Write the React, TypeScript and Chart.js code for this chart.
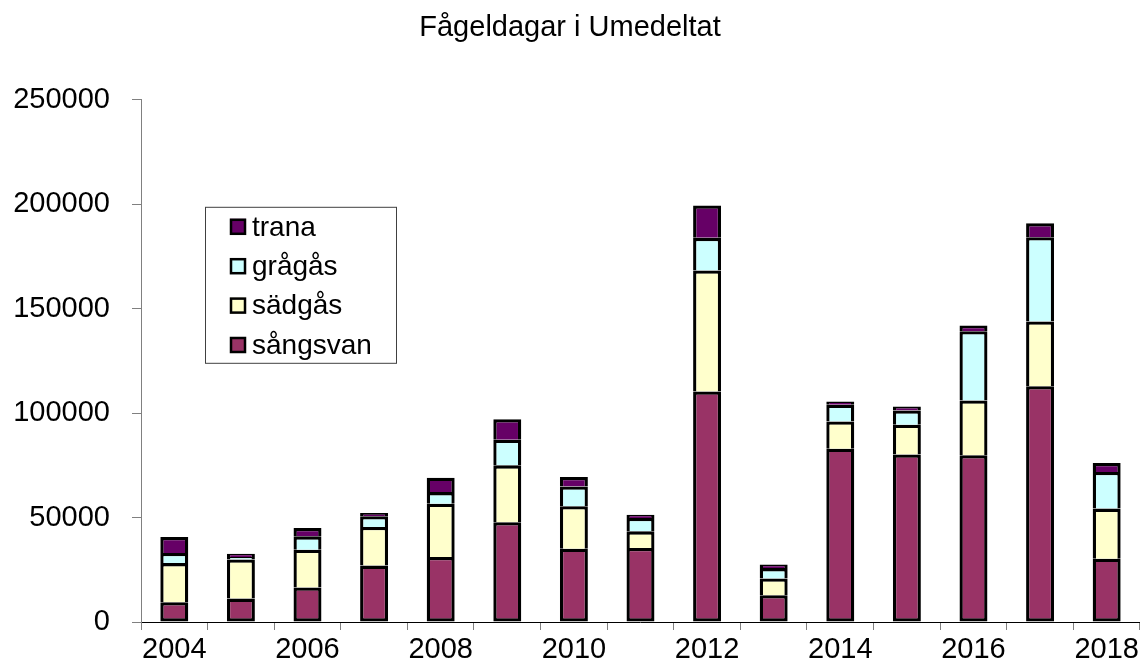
import React, { useEffect, useRef } from "react";
import { Chart, registerables } from "chart.js";

Chart.register(...registerables);

const years = ["2004", "2005", "2006", "2007", "2008", "2009", "2010", "2011", "2012", "2013", "2014", "2015", "2016", "2017", "2018"];
const sangsvan = [9500, 11200, 16500, 27000, 31100, 47800, 35100, 35400, 110400, 12800, 83000, 80200, 79800, 112900, 30300];
const sadgas = [18700, 18700, 18100, 18500, 25500, 27200, 20300, 8000, 57900, 8000, 13000, 14200, 26300, 31000, 24000];
const gragas = [4800, 1200, 6400, 5100, 5600, 12300, 9500, 6400, 15600, 5000, 8000, 6900, 33100, 40300, 17500];
const trana = [7700, 1600, 4000, 1600, 6900, 9800, 4500, 1600, 15500, 1700, 1600, 1900, 2800, 6700, 4300];
const seriesNames = ["sångsvan", "sädgås", "grågås", "trana"];
const seriesColors = ["#993366", "#FFFFCC", "#CCFFFF", "#660066"];
const titleText = "Fågeldagar i Umedeltat";

const FONT = "'Liberation Sans', Arial, sans-serif";

const boxLegend = {
  id: "boxLegend",
  afterDraw(chart: any) {
    const ctx = chart.ctx;
    const area = chart.chartArea;
    const left = area.left + 64;
    const top = area.top + 107;
    const w = 191;
    const h = 156;
    ctx.save();
    ctx.fillStyle = "#ffffff";
    ctx.fillRect(left, top, w, h);
    ctx.strokeStyle = "#404040";
    ctx.lineWidth = 1;
    ctx.strokeRect(left + 0.5, top + 0.5, w, h);
    const ds = chart.data.datasets;
    const n = ds.length;
    ctx.font = "28px " + FONT;
    ctx.textBaseline = "middle";
    ctx.textAlign = "left";
    for (let k = 0; k < n; k++) {
      const d = ds[n - 1 - k];
      const cy = top + 20 + k * 39.4;
      ctx.fillStyle = d.backgroundColor;
      ctx.fillRect(left + 25, cy - 8, 16, 16);
      ctx.strokeStyle = "#000";
      ctx.lineWidth = 2.5;
      ctx.strokeRect(left + 26, cy - 7, 14, 14);
      ctx.fillStyle = "#000";
      ctx.fillText(d.label, left + 47, cy + 1);
    }
    ctx.restore();
  },
};

export default function App() {
  const ref = useRef<HTMLCanvasElement | null>(null);
  useEffect(() => {
    if (!ref.current) return;
    const values = [sangsvan, sadgas, gragas, trana];
    const chart = new Chart(ref.current, {
      type: "bar",
      data: {
        labels: years,
        datasets: values.map((v, i) => ({
          label: seriesNames[i],
          data: v,
          backgroundColor: seriesColors[i],
          borderColor: "#000000",
          borderWidth: i === 0 ? { top: 3.3, left: 3.3, right: 3.3, bottom: 3.3 } : { top: 3.3, left: 3.3, right: 3.3, bottom: 0 },
          borderSkipped: false,
          barPercentage: 0.42,
          categoryPercentage: 1,
        })),
      },
      options: {
        responsive: false,
        animation: false,
        layout: { padding: { left: 0, right: 2, top: 0, bottom: 0 } },
        plugins: {
          legend: { display: false },
          tooltip: { enabled: false },
          title: {
            display: true,
            text: titleText,
            color: "#000",
            font: { family: FONT, size: 29, weight: "normal" },
            padding: { top: 11, bottom: 54 },
          },
        },
        scales: {
          x: {
            stacked: true,
            grid: { display: true, drawOnChartArea: false, drawTicks: true, tickLength: 8, color: "#808080", offset: true },
            border: { display: true, color: "#000000", width: 1 },
            ticks: {
              autoSkip: false,
              maxRotation: 0,
              color: "#000",
              padding: 3,
              font: { family: FONT, size: 29 },
              callback: (_v: any, idx: number) => (idx % 2 === 0 ? years[idx] : ""),
            },
            afterFit: (s: any) => {
              s.height = 42;
            },
          },
          y: {
            stacked: true,
            min: 0,
            max: 250000,
            grid: { display: true, drawOnChartArea: false, drawTicks: true, tickLength: 9, color: "#808080" },
            border: { display: true, color: "#808080", width: 1 },
            ticks: {
              stepSize: 50000,
              color: "#000",
              padding: 22,
              font: { family: FONT, size: 29 },
              callback: (v: any) => String(v),
            },
            afterFit: (s: any) => {
              s.width = 141;
            },
          },
        },
      },
      plugins: [boxLegend],
    });
    return () => chart.destroy();
  }, []);
  return (
    <div style={{ position: "fixed", left: 0, top: 0, width: 1142, height: 664, background: "#fff" }}>
      <canvas ref={ref} width={1142} height={664} />
    </div>
  );
}
